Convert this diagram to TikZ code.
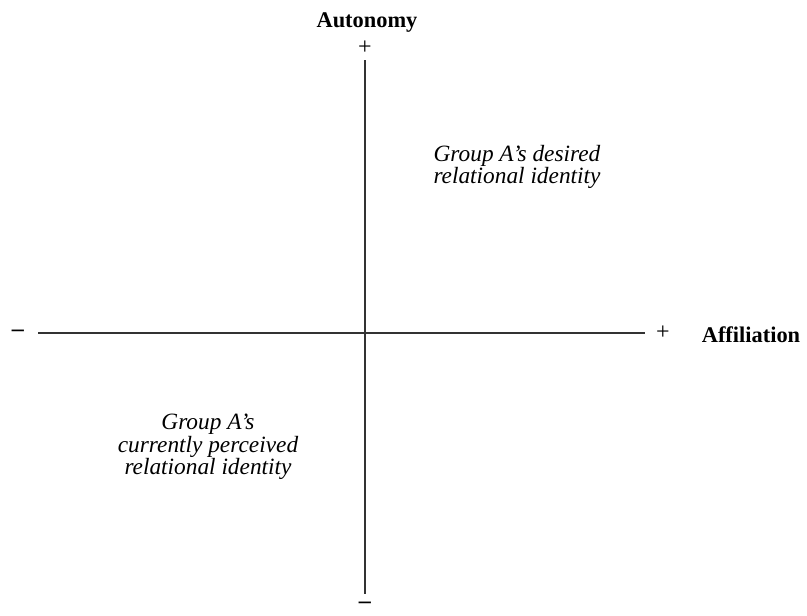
\documentclass[tikz,border=0pt]{standalone}
\usepackage{fontspec}
\setmainfont{Liberation Serif}
\usepackage{tikz}
\usetikzlibrary{positioning}
\tikzset{
  axis/.style={draw=black!80, line width=0.9pt},
  axislabel/.style={font=\fontsize{16.8}{16}\selectfont\bfseries, inner sep=0pt},
  sign/.style={font=\fontsize{18}{18}\selectfont, inner sep=0pt},
  quadrant/.style={font=\fontsize{17.5}{15.6}\selectfont\itshape, align=center, inner sep=0pt}
}

\begin{document}
\begin{tikzpicture}[x=0.75pt, y=-0.75pt]
  \useasboundingbox (0,0) rectangle (807,615);

  \coordinate (top) at (365,60);
  \coordinate (bottom) at (365,594);
  \coordinate (left) at (38,333);
  \coordinate (right) at (645,333);

  \node[axislabel, anchor=base] (auto) at (367,27) {Autonomy};
  \node[sign] (plustop) at (365,48) {+};
  \node[sign] (minusbottom) at (365,605) {\textbf{–}};
  \node[sign] (minusleft) at (18,333) {\textbf{–}};
  \node[sign] (plusright) at (663,333) {+};
  \node[axislabel, anchor=base] (affil) at (751,342) {Affiliation};

  \node[quadrant] (desired) at (517,167) {Group A’s desired\\relational identity};
  \node[quadrant] (perceived) at (208,447) {Group A’s\\currently perceived\\relational identity};

  \draw[axis] (top) -- (bottom);
  \draw[axis] (left) -- (right);
\end{tikzpicture}
\end{document}
